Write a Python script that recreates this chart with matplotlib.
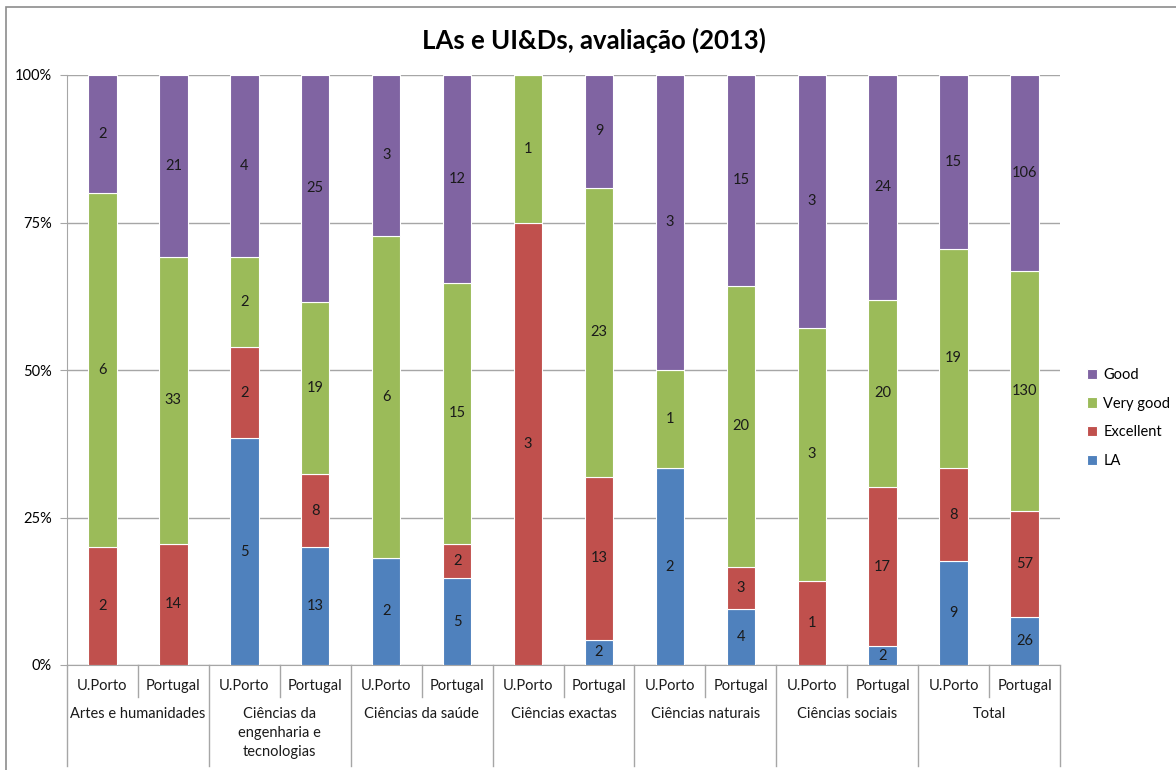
import matplotlib
matplotlib.use("Agg")
import matplotlib.pyplot as plt
from matplotlib.lines import Line2D
import numpy as np

plt.rcParams['font.family'] = ['Lato', 'DejaVu Sans']

groups = ["Artes e humanidades", "Ciências da\nengenharia e\ntecnologias", "Ciências da saúde",
          "Ciências exactas", "Ciências naturais", "Ciências sociais", "Total"]
subcats = ["U.Porto", "Portugal"]
series = ["LA", "Excellent", "Very good", "Good"]
colors = ["#4F81BD", "#C0504D", "#9BBB59", "#8064A2"]

la        = [0, 0, 5, 13, 2, 5, 0, 2, 2, 4, 0, 2, 9, 26]
excellent = [2, 14, 2, 8, 0, 2, 3, 13, 0, 3, 1, 17, 8, 57]
very_good = [6, 33, 2, 19, 6, 15, 1, 23, 1, 20, 3, 20, 19, 130]
good      = [2, 21, 4, 25, 3, 12, 0, 9, 3, 15, 3, 24, 15, 106]

data = np.array([la, excellent, very_good, good], dtype=float)
totals = data.sum(axis=0)
pct = data / totals

fig = plt.figure(figsize=(11.76, 7.7), dpi=100)
ax = fig.add_axes([67/1176, 1-665/770, (1060-67)/1176, (665-75)/770])

x = np.arange(len(la))
bottom = np.zeros(len(la))
handles = []
for i, (name, col) in enumerate(zip(series, colors)):
    b = ax.bar(x, pct[i], bottom=bottom, width=0.4, color=col, edgecolor="white",
               linewidth=0.8, label=name, zorder=3)
    handles.append(b)
    for j in range(len(x)):
        if data[i, j] > 0:
            ax.text(x[j], bottom[j] + pct[i, j] / 2, f"{int(data[i, j])}",
                    ha="center", va="center", fontsize=10.5, color="#1a1a1a", zorder=4)
    bottom += pct[i]

ax.set_xlim(-0.5, len(la) - 0.5)
ax.set_ylim(0, 1)
ax.set_yticks([0, 0.25, 0.5, 0.75, 1.0])
ax.set_yticklabels(["0%", "25%", "50%", "75%", "100%"], fontsize=10.5)
ax.yaxis.grid(True, color="#A6A6A6", linewidth=1, zorder=0)
ax.tick_params(axis="y", length=5, color="#A6A6A6", pad=6)
ax.set_xticks([])
for s in ["top", "right"]:
    ax.spines[s].set_visible(False)
ax.spines["left"].set_color("#A6A6A6")
ax.spines["bottom"].set_color("#A6A6A6")

trans = ax.get_xaxis_transform()
hpx = 590.0
# sub-category labels
for j in range(len(x)):
    ax.text(x[j], -21 / hpx, subcats[j % 2], transform=trans, ha="center", va="center",
            fontsize=10.5, color="#1a1a1a")
# group labels
for g, name in enumerate(groups):
    ax.text(2 * g + 0.5, -42 / hpx, name, transform=trans, ha="center", va="top",
            fontsize=10.5, color="#1a1a1a", linespacing=1.45)
# separators
for g in range(len(groups)):
    ax.add_line(Line2D([2 * g + 0.5, 2 * g + 0.5], [0, -32 / hpx], transform=trans,
                       color="#A6A6A6", linewidth=1, clip_on=False))
for k in range(len(groups) + 1):
    xv = 2 * k - 0.5
    ax.add_line(Line2D([xv, xv], [0, -101 / hpx], transform=trans,
                       color="#A6A6A6", linewidth=1, clip_on=False))

fig.text((418 + 770) / 2 / 1176, 1 - 40 / 770, "LAs e UI&Ds, avaliação (2013)",
         ha="center", va="center", fontsize=18.5, fontweight="bold", color="#000000")

leg = fig.legend(handles[::-1], series[::-1], loc="center left",
                 bbox_to_anchor=(1074 / 1176, 1 - 418 / 770), frameon=False,
                 fontsize=10.5, handlelength=0.7, handleheight=0.7, handletextpad=0.4,
                 labelspacing=1.0)

# chart border
fig.add_artist(plt.Rectangle((6 / 1176, -0.1), 1.2, 1 - 7 / 770 + 0.1,
                             transform=fig.transFigure, fill=False,
                             edgecolor="#8C8C8C", linewidth=1.2))

fig.savefig("out.png", dpi=100, facecolor="white")
